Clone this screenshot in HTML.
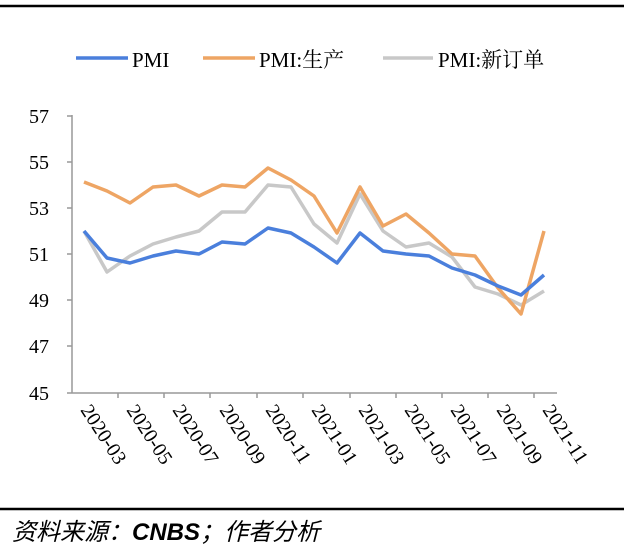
<!DOCTYPE html>
<html><head><meta charset="utf-8"><style>
body{margin:0;background:#fff;}
svg{display:block;}
</style></head><body>
<svg width="624" height="550" xmlns="http://www.w3.org/2000/svg">
<rect width="624" height="550" fill="#fff"/>
<line x1="0" y1="6" x2="624" y2="6" stroke="#000" stroke-width="2.5"/>
<line x1="0" y1="509" x2="624" y2="509" stroke="#000" stroke-width="2.5"/>
<g font-family="Liberation Serif, 'Noto Serif CJK SC', serif" font-size="21" fill="#000">
<line x1="76" y1="58" x2="128" y2="58" stroke="#4a7fdc" stroke-width="3.5"/>
<text x="132" y="67">PMI</text>
<line x1="203" y1="58" x2="255" y2="58" stroke="#eea564" stroke-width="3.5"/>
<text x="259" y="67">PMI:生产</text>
<line x1="383" y1="58" x2="433" y2="58" stroke="#c8c8c8" stroke-width="3.5"/>
<text x="438" y="67">PMI:新订单</text>
</g>
<g stroke="#999" stroke-width="1.5">
<line x1="72" y1="115" x2="72" y2="393"/>
<line x1="72" y1="393" x2="557" y2="393"/>
<line x1="67" y1="116" x2="72" y2="116"/><line x1="67" y1="162" x2="72" y2="162"/>
<line x1="67" y1="208" x2="72" y2="208"/><line x1="67" y1="254" x2="72" y2="254"/>
<line x1="67" y1="300" x2="72" y2="300"/><line x1="67" y1="346" x2="72" y2="346"/>
<line x1="67" y1="393" x2="72" y2="393"/>
<line x1="118" y1="393" x2="118" y2="398"/><line x1="164" y1="393" x2="164" y2="398"/>
<line x1="210" y1="393" x2="210" y2="398"/><line x1="257" y1="393" x2="257" y2="398"/>
<line x1="303" y1="393" x2="303" y2="398"/><line x1="350" y1="393" x2="350" y2="398"/>
<line x1="396" y1="393" x2="396" y2="398"/><line x1="442" y1="393" x2="442" y2="398"/>
<line x1="488" y1="393" x2="488" y2="398"/><line x1="534" y1="393" x2="534" y2="398"/>
</g>
<g font-family="Liberation Serif, serif" font-size="20" fill="#000" text-anchor="end">
<text x="49" y="123">57</text><text x="49" y="169">55</text><text x="49" y="215">53</text>
<text x="49" y="261">51</text><text x="49" y="307">49</text><text x="49" y="353">47</text>
<text x="49" y="400">45</text>
</g>
<g font-family="Liberation Serif, serif" font-size="20" fill="#000">
<text transform="translate(80,410) rotate(57)">2020-03</text>
<text transform="translate(126,410) rotate(57)">2020-05</text>
<text transform="translate(172,410) rotate(57)">2020-07</text>
<text transform="translate(219,410) rotate(57)">2020-09</text>
<text transform="translate(265,410) rotate(57)">2020-11</text>
<text transform="translate(311,410) rotate(57)">2021-01</text>
<text transform="translate(358,410) rotate(57)">2021-03</text>
<text transform="translate(404,410) rotate(57)">2021-05</text>
<text transform="translate(450,410) rotate(57)">2021-07</text>
<text transform="translate(496,410) rotate(57)">2021-09</text>
<text transform="translate(542,410) rotate(57)">2021-11</text>
</g>
<g fill="none" stroke-width="3.5" stroke-linejoin="round">
<polyline stroke="#c8c8c8" points="84,231 107,272 130,256 153,244 176,237 199,231 222,212 245,212 268,185 291,187 314,224 337,243 360,194 383,231 406,247 429,243 452,257 475,287 498,294 521,305 544,291"/>
<polyline stroke="#eea564" points="84,182 107,191 130,203 153,187 176,185 199,196 222,185 245,187 268,168 291,180 314,196 337,233 360,187 383,226 406,214 429,233 452,254 475,256 498,288 521,314 544,231"/>
<polyline stroke="#4a7fdc" points="84,231 107,258 130,263 153,256 176,251 199,254 222,242 245,244 268,228 291,233 314,247 337,263 360,233 383,251 406,254 429,256 452,268 475,275 498,286 521,295 544,275"/>
</g>
<text x="12" y="540" font-family="'Noto Sans CJK SC', sans-serif" font-size="24" font-style="italic" fill="#000">资料来源：<tspan font-family="Liberation Sans, sans-serif" font-weight="bold">CNBS</tspan>；作者分析</text>
</svg>
</body></html>
